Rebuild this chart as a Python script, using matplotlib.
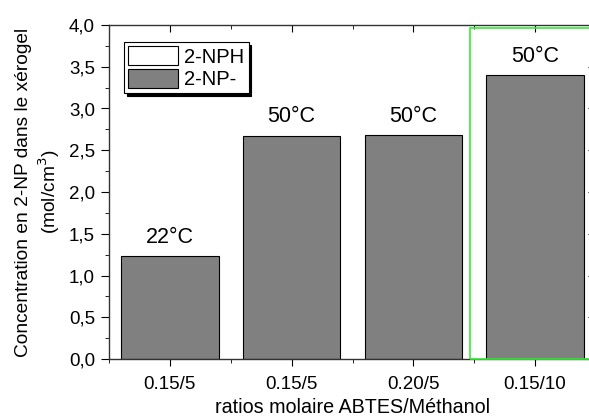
import matplotlib
matplotlib.use("Agg")
import matplotlib.pyplot as plt
from matplotlib.patches import Patch, Rectangle
from matplotlib.ticker import MultipleLocator, FuncFormatter

categories = ["0.15/5", "0.15/5", "0.20/5", "0.15/10"]
values = [1.235, 2.675, 2.685, 3.40]
temps = ["22°C", "50°C", "50°C", "50°C"]
legend_labels = ["2-NPH", "2-NP-"]

plt.rcParams['font.family'] = ['Liberation Sans', 'DejaVu Sans']
plt.rcParams['font.size'] = 13

fig = plt.figure(figsize=(5.89, 4.19), dpi=100)
ax = fig.add_axes([109/589, 1-359/419, 487/589, 334/419])

x = list(range(1, len(categories)+1))
ax.bar(x, values, width=0.8, color="#808080", edgecolor="black", linewidth=0.8, zorder=2)
for xi, v, t in zip(x, values, temps):
    ax.text(xi, v + 0.225, t, ha="center", va="center", fontsize=15.5)

ax.set_xlim(0.5, 4.5)
ax.set_ylim(0, 4.0)
ax.set_xticks(x)
ax.set_xticklabels(categories)
ax.xaxis.set_minor_locator(MultipleLocator(0.5))
ax.yaxis.set_major_locator(MultipleLocator(0.5))
ax.yaxis.set_minor_locator(MultipleLocator(0.25))
ax.yaxis.set_major_formatter(FuncFormatter(lambda v, p: f"{v:.1f}".replace(".", ",")))
ax.tick_params(axis="x", which="major", direction="out", length=5, labelsize=13.5, pad=7)
ax.tick_params(axis="y", which="major", direction="out", length=6, labelsize=13.5, pad=4)
ax.tick_params(axis="both", which="minor", direction="out", length=3)
ax.tick_params(top=True, right=True, which="both")
for t in ax.xaxis.get_major_ticks() + ax.xaxis.get_minor_ticks():
    t.tick2line.set_marker(3)
for t in ax.yaxis.get_major_ticks() + ax.yaxis.get_minor_ticks():
    t.tick2line.set_marker(0)
for s in ax.spines.values():
    s.set_linewidth(1.0)
    s.set_color("#333333")

ax.set_xlabel("ratios molaire ABTES/Méthanol", fontsize=14.2, labelpad=4)
ax.set_ylabel("Concentration en 2-NP dans le xérogel\n(mol/cm$^3$)", fontsize=13.8,
              labelpad=5, linespacing=1.25)

ax.add_patch(Rectangle((3.465, 0.005), 1.3, 3.955, fill=False, edgecolor="#33ee33",
                       linewidth=1.2, zorder=3, clip_on=False))

handles = [Patch(facecolor="white", edgecolor="black", linewidth=0.8),
           Patch(facecolor="#808080", edgecolor="black", linewidth=0.8)]
leg = ax.legend(handles, legend_labels, loc="upper left", bbox_to_anchor=(15/487, 1-17/334),
                fancybox=False, shadow={'color': 'black', 'alpha': 1},
                handlelength=2.5, handleheight=1.1, borderpad=0.2, labelspacing=0.1,
                handletextpad=0.3, fontsize=14.5, framealpha=1, borderaxespad=0)
leg.get_frame().set_edgecolor("black")
leg.get_frame().set_linewidth(0.8)

fig.savefig("out.png", dpi=100)
